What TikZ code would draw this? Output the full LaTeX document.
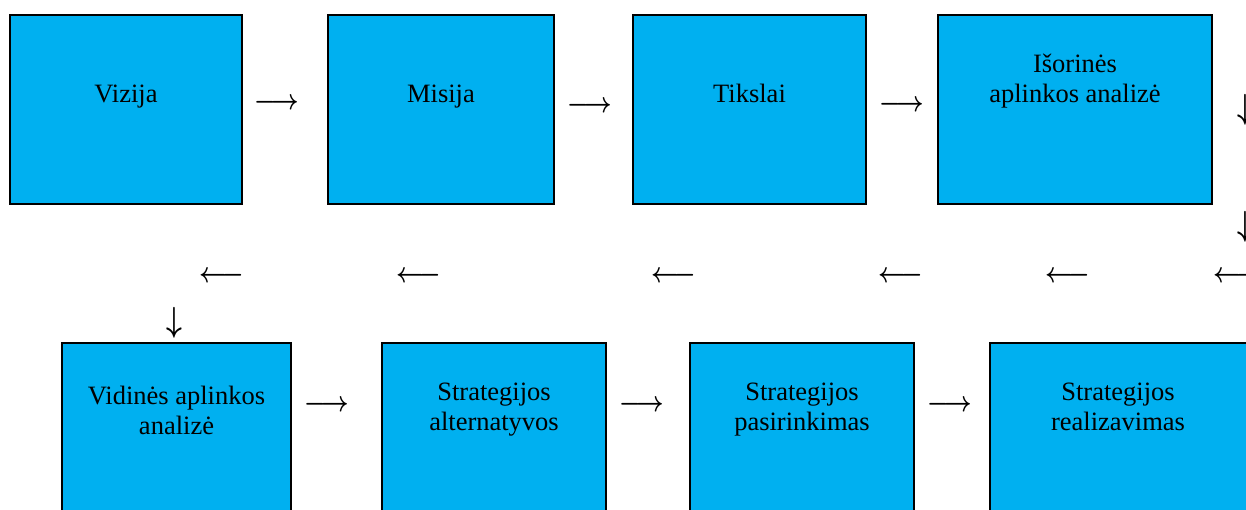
\documentclass[tikz,border=0pt]{standalone}
\usepackage{fontspec}
\usepackage{graphicx}
\setmainfont{Liberation Serif}
\usetikzlibrary{calc}
\definecolor{boxblue}{RGB}{0,176,240}
\newcommand{\rarr}{\scalebox{1}[1.2]{\boldmath$\longrightarrow$}}
\newcommand{\larr}{\scalebox{1}[1.2]{\boldmath$\longleftarrow$}}
\newcommand{\darr}{\scalebox{1.15}[1.45]{\boldmath$\downarrow$}}

\begin{document}
\begin{tikzpicture}[x=0.5pt,y=-0.5pt,
  box/.style={draw=black,line width=1.3pt,fill=boxblue,minimum width=#1,minimum height=94.5pt,inner sep=0pt},
  txt/.style={font=\fontsize{13.25}{15.25}\selectfont,align=center,inner sep=0pt,anchor=base},
  arw/.style={font=\fontsize{13}{13}\selectfont,inner sep=0pt}]
\useasboundingbox (0,0) rectangle (1246,509);
\clip (0,0) rectangle (1246,509);
% top row
\node[box=116pt] (vizija) at (126,109.5) {};
\node[box=113pt] (misija) at (441,109.5) {};
\node[box=116.5pt] (tikslai) at (749.5,109.5) {};
\node[box=137pt] (isorine) at (1075,109.5) {};
\node[txt] (vizijaT) at ($(vizija.north)+(0,89)$) {Vizija};
\node[txt] (misijaT) at ($(misija.north)+(0,89)$) {Misija};
\node[txt] (tikslaiT) at ($(tikslai.north)+(0,89)$) {Tikslai};
\node[txt] (isorineT) at ($(isorine.north)+(0,89)$) {Išorinės\\aplinkos analizė};
% bottom row
\node[box=114.5pt] (vidine) at (176.5,437.5) {};
\node[box=112pt] (alter) at (494,437.5) {};
\node[box=112pt] (pasir) at (802,437.5) {};
\node[box=130pt] (realiz) at (1120,437.5) {};
\node[txt] (vidineT) at ($(vidine.north)+(0,93)$) {Vidinės aplinkos\\analizė};
\node[txt] (alterT) at ($(alter.north)+(0,89)$) {Strategijos\\alternatyvos};
\node[txt] (pasirT) at ($(pasir.north)+(0,89)$) {Strategijos\\pasirinkimas};
\node[txt] (realizT) at ($(realiz.north)+(-2,89)$) {Strategijos\\realizavimas};
% arrows
\node[arw] (r1) at (277,104) {\rarr};
\node[arw] (r2) at (590,107) {\rarr};
\node[arw] (r3) at (902,106) {\rarr};
\node[arw] (d1) at (1245,110) {\darr};
\node[arw] (d2) at (1245,227) {\darr};
\foreach \x [count=\i] in {222,419,674,901,1068,1236}
  \node[arw] (l\i) at (\x,277) {\larr};
\node[arw] (d3) at (174,323) {\darr};
\node[arw] (r4) at (327,406) {\rarr};
\node[arw] (r5) at (641.5,406) {\rarr};
\node[arw] (r6) at (949.5,406) {\rarr};
\end{tikzpicture}
\end{document}
